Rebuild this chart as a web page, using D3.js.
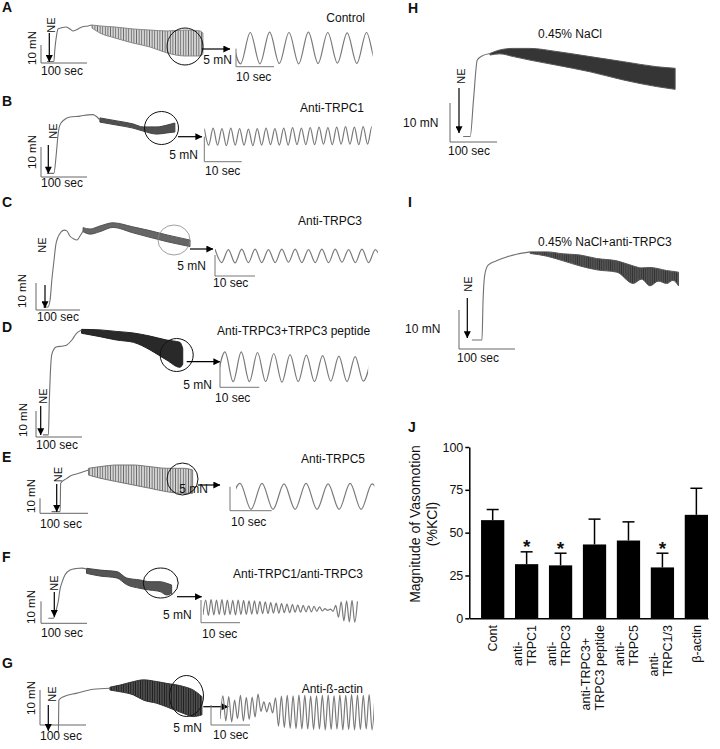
<!DOCTYPE html>
<html><head><meta charset="utf-8">
<script src="https://cdn.jsdelivr.net/npm/d3@7"></script>
<style>
body{margin:0;background:#fff;}
svg text{font-family:Arial,"Liberation Sans",sans-serif;fill:#111;}
</style></head><body>
<svg id="fig" width="720" height="749"></svg>
<script>
// ===================== DATA =====================
// Panel J: magnitude of vasomotion (%KCl)
const categories = ["Cont","anti-\nTRPC1","anti-\nTRPC3","anti-TRPC3+\nTRPC3 peptide","anti-\nTRPC5","anti-\nTRPC1/3","β-actin"];
const meanValues = [57.3,31.6,30.9,43.1,45.4,29.7,60.4];
const semValues  = [6.2,7.2,7.1,14.8,10.9,8.3,15.5];
const significant = [false,true,true,false,false,true,false];
const yTicks = [0,25,50,75,100];
const yLabelLines = ["Magnitude of Vasomotion","(%KCl)"];

// Trace titles
const traceTitles = ["Control","Anti-TRPC1","Anti-TRPC3","Anti-TRPC3+TRPC3 peptide","Anti-TRPC5","Anti-TRPC1/anti-TRPC3","Anti-ß-actin","0.45% NaCl","0.45% NaCl+anti-TRPC3"];

// Tension traces: [time s, force mN] ; oscillating part as [time s, lower mN, upper mN]
const riseA = [[13,0.8],[28,0.8],[30,7.2],[34,15.6],[37,18.9],[43,19.4],[54,20],[63,18.9],[70,17.8],[76,18.3],[89,20],[102,20.6],[111,21.1]];
const bandA = [[111,19.4,21.1],[128,16.7,20.6],[161,13.9,20],[200,11.1,18.9],[237,8.9,18.3],[274,5.6,17.8],[313,3.9,18.3],[346,3.9,17.8],[352,5,16.7]];
const riseB = [[13,1.2],[28,1.2],[33,7.3],[37,14],[41,17.3],[50,19],[63,20],[85,20.3],[102,20.7],[113,20.8],[122,20],[128,19]];
const bandB = [[128,18.3,19.7],[165,17.3,18.7],[200,16.3,17.7],[222,15.3,16.7],[252,14.3,16.7],[274,14.7,17.3],[291,15,18]];
const riseC = [[16,1.1],[27,1.1],[32,3.7],[36,11.1],[41,18.5],[45,24.1],[50,27],[57,28.9],[64,29.6],[70,29.3],[77,27.4],[86,26.3],[93,25.9],[100,27.4],[107,29.3]];
const bandC = [[107,29,30.5],[123,28.1,30],[145,29,31.1],[175,30.6,32.3],[220,28.6,30.8],[259,26.9,29.4],[298,25.3,27.8],[350,23.5,25.9]];
const riseD = [[15,0.8],[27,0.8],[29,14.2],[31,23.8],[34,31.5],[39,33.8],[45,34.7],[59,35],[67,35.4],[78,37.3],[88,39.9],[99,41.2]];
const bandD = [[99,39.9,41.4],[139,38.6,41.2],[175,37.3,40.6],[212,36.4,40],[248,33.5,38.8],[284,29.6,37.3],[313,26.8,36.4],[319,28,34]];
const riseE = [[24,1.1],[42,1.1],[43,20],[56,23.3],[63,24.9],[76,26.2],[90,27.7],[101,28.9]];
const bandE = [[101,25.5,30],[125,23.4,31.1],[160,21.1,32.2],[194,18.9,32.2],[229,16.7,31.1],[264,14.4,30],[299,13.3,30],[318,13.3,28.9]];
const riseF = [[16,2.3],[27,2.3],[33,6],[38,10.6],[41,15.1],[46,18.8],[52,22],[63,24.2],[76,24.9],[89,25.1],[99,24.7]];
const bandF = [[99,22.7,25],[128,21.5,24.2],[165,20.6,23.5],[186,17.6,20.6],[215,15.9,19.7],[237,15.1,18.9],[259,14.4,18.9],[273,12.9,18.2],[284,13.6,17.4]];
const riseG = [[33,-1.9],[40,-1.9],[40.5,2.9],[41,7.1],[51,8.1],[80,9.1],[116,10.2],[152,10.5]];
const bandG = [[152,10,10.8],[174,9.5,11.4],[203,8.6,12.4],[225,7.1,12.9],[254,6.2,12.4],[275,5.2,11.9],[312,3.3,11],[333,2.4,10],[352,2.9,8.1]];
const riseH = [[28,1.4],[43,1.4],[50,10.8],[58,21],[67,22],[85,22.7]];
const bandH = [[85,22.3,22.7],[106,22.6,23.6],[135,21.9,24],[170,21,24],[227,19.7,23.2],[298,18,21.9],[369,15.9,20.6],[440,14.2,19.3],[479,13.5,18.9]];
const riseI = [[23,2.3],[41,2.3],[43,12.6],[46,19],[52,21.5],[67,22.6],[85,23.6],[103,24.3],[127,24.9]];
const bandI = [[127,24.5,24.9],[157,23.8,24.9],[186,22.6,24.4],[216,21.3,24.1],[246,20.3,23.2],[282,19.7,22.6],[311,16.8,21.3],[326,17.9,20.8],[341,16.2,20.9],[356,17.4,20.6],[371,16.8,20.1],[382,17.6,19.9],[392,16.2,19.7]];

// Expanded traces: successive peak/trough values (mN); timing = [first extremum time s, half period s]
const zoomA = [9.4,0.8,9.5,0.8,9.6,0.9,9.5,0.8,9.6,0.9,9.5,1.0,9.4,0.9,9.5,1.0,9.3];
const timingA = [-1.35,2.55];
const zoomB = [6.6,3.3,6.7,3.3,6.6,3.2,6.7,3.3,6.6,3.3,6.5,3.2,6.6,3.3,6.7,3.4,6.6,3.3,6.7,3.3,6.8,3.4,6.7,3.4,6.8,3.4,6.9,3.5,6.8,3.4,6.9,3.5,7.0,3.5,6.9,3.4,7.0,3.5,7.0,3.5];
const timingB = [0,1.18];
const zoomC = [6.4,3.2,6.3,3.1,6.4,3.2,6.4,3.2,6.3,3.2,6.4,3.3,6.4,3.2,6.3,3.2,6.4,3.2,6.4,3.3,6.3,3.2,6.4,3.2,6.3,3.2];
const timingC = [0,1.67];
const zoomD = [1.2,6.9,1.1,6.9,1.1,6.8,1.1,6.6,1.0,6.4,1.1,6.3,1.1,6.2,1.2,6.1,1.1,6.0,1.2,6.0];
const timingD = [-0.8,2.07];
const zoomE = [0.4,5.7,0.3,5.7,0.3,5.6,0.3,5.7,0.3,5.6,0.3,5.7,0.3,5.6,0.4];
const timingE = [-0.24,2.64];
const zoomF = [1.7,5.0,1.6,5.1,1.7,5.0,1.8,5.1,1.7,5.0,1.8,4.9,1.7,5.0,1.8,4.9,1.8,4.8,1.9,4.8,1.9,4.7,2.0,4.6,
  2.0,4.4,2.1,4.3,2.1,4.2,2.2,4.1,2.2,4.0,2.3,3.9,2.3,3.8,2.4,3.7,2.4,3.6,2.5,3.5,
  2.6,3.1,2.7,3.0,2.5,
  3.8,1.2,4.6,0.4,4.8,0.2,4.9,0.1,4.7];
const timingF = [0.5,0.695];
const zoomG = [1.5,7.3,1.0,7.1,0.8,6.2,1.6,7.4,1.0,6.9,1.4,7.0,2.0,7.7,
  3.4,5.8,3.3,5.6,3.0,
  6.8,-0.3,7.2,-0.6,7.4,-0.8,7.3,-0.9,7.5,-1.0,7.4,-1.0,7.2,-1.1,7.3,-1.0,7.4,-1.2,7.5,-1.1,7.3,-1.0,7.5,-1.2,7.4,-1.1,7.6,-1.2,7.5,-1.1,7.4,-1.0,7.6,-1.2,7.5];
const timingG = [2.3,0.75];

// ===================== LAYOUT =====================
const svg = d3.select("#fig");
const defs = svg.append("defs");
defs.append("marker").attr("id","ah").attr("viewBox","0 0 10 10").attr("refX",9.5).attr("refY",5)
  .attr("markerWidth",7.5).attr("markerHeight",7).attr("markerUnits","userSpaceOnUse").attr("orient","auto")
  .append("path").attr("d","M0,0L10,5L0,10z").attr("fill","#000");

function stripePattern(id, bg, fg, period, lw){
  const p = defs.append("pattern").attr("id",id).attr("patternUnits","userSpaceOnUse").attr("width",period).attr("height",20);
  p.append("rect").attr("width",period).attr("height",20).attr("fill",bg);
  p.append("line").attr("x1",period/2).attr("x2",period/2).attr("y1",0).attr("y2",20).attr("stroke",fg).attr("stroke-width",lw);
}
stripePattern("pA","#e6e6e6","#6a6a6a",2.6,1.1);
stripePattern("pB","#666","#3a3a3a",2,1);
stripePattern("pC","#777","#555",2,1);
stripePattern("pD","#555","#111",2,1.3);
stripePattern("pF","#666","#444",2,1);
stripePattern("pG","#666","#1a1a1a",2.4,1.3);
stripePattern("pH","#555","#1a1a1a",2,1.1);
stripePattern("pI","#5a5a5a","#333",2.2,1);

const panels = [
 {L:"A",letter:[2,11.7],rise:riseA,band:bandA,pat:"pA",bstroke:"#888",main:[41,63,46,18],
  ne:[51.5,25],neArrow:[49.3,33,61.7],mn:[32,48],sec:[41,75],circle:[185,46.5,18,18.5,"#111"],
  harrow:[202,49,230],five:[232,64],ten:[236,81],zoom:[236,66.7,38,18],ext:zoomA,tim:timingA,clip:[0,36],
  title:[0,365,22,"end"]},
 {L:"B",letter:[2,106],rise:riseB,band:bandB,pat:"pB",bstroke:"#444",main:[41,177,46,30],
  ne:[53,131],neArrow:[48.3,145,173.3],mn:[32,152],sec:[41,186.7],circle:[161.5,128,17,16.5,"#111"],
  harrow:[178,136.7,202],five:[198,159],ten:[205,175],zoom:[204.3,161.7,37.4,25],ext:zoomB,tim:timingB,clip:[0,44.8],
  title:[1,364,112,"end"]},
 {L:"C",letter:[2,206.7],rise:riseC,band:bandC,pat:"pC",bstroke:"#555",main:[36,310,44,27],
  ne:[42,245],neArrow:[45,285,308],mn:[22,291],sec:[37,320.7],circle:[174,240,16,15,"#888"],
  harrow:[190,249,213],five:[206,270],ten:[213,286.7],zoom:[215,276,40,21],ext:zoomC,tim:timingC,clip:[0,40.75],
  title:[2,362,225,"end"]},
 {L:"D",letter:[2,331.7],rise:riseD,band:bandD,pat:"pD",bstroke:"#222",main:[36,437,46,26],
  ne:[43,396],neArrow:[40.7,406,435],mn:[23,420],sec:[36,449],circle:[176.7,355,16.5,16.5,"#111"],
  harrow:[186.7,361.7,220],five:[212,389],ten:[215,401.7],zoom:[220,387.3,39.3,25.6],ext:zoomD,tim:timingD,clip:[0,37.7],
  title:[3,217,335,"start"]},
 {L:"E",letter:[2,461.7],rise:riseE,band:bandE,pat:"pA",bstroke:"#777",main:[40,513.3,48,15],
  ne:[58,474.5],neArrow:[56.7,484,511.7],mn:[30.5,496],sec:[40,528.3],circle:[182.5,479,15.5,16,"#111"],
  harrow:[198,485,220],five:[208,493.3],ten:[231,526],zoom:[230,510.7,41.7,24],ext:zoomE,tim:timingE,clip:[1.44,34.6],
  title:[4,365,463,"end"]},
 {L:"F",letter:[2,561.7],rise:riseF,band:bandF,pat:"pF",bstroke:"#444",main:[41,623.3,46,22],
  ne:[54,583],neArrow:[54.3,592,616.7],mn:[31,607],sec:[41,636.7],circle:[160.7,583,17.5,15,"#111"],
  harrow:[177,596.7,201.7],five:[191.7,619],ten:[202,638.3],zoom:[201,622.7,39,22.7],ext:zoomF,tim:timingF,clip:[0.5,40.3],
  title:[5,233,578,"start"]},
 {L:"G",letter:[2,668.3],rise:riseG,band:bandG,pat:"pG",bstroke:"#333",main:[40,725,46,35],
  ne:[52,694],neArrow:[48.3,705,730.7],mn:[30.5,698],sec:[40,740],circle:[186.5,696,17,20.5,"#111"],
  harrow:[203.3,706.7,228.3],five:[202,731.7],ten:[213,739.3],zoom:[211,725,39,20],ext:zoomG,tim:timingG,clip:[2.3,41.8],
  title:[6,363,693,"end"]},
 {L:"H",letter:[408,13.3],rise:riseH,band:bandH,pat:"pH",bstroke:"#555",main:[450,142,47,39],
  ne:[461,76],neArrow:[459,88,133],mnH:[403,127],sec:[448,155],title:[7,538,38,"start"]},
 {L:"I",letter:[408,206.7],rise:riseI,band:bandI,pat:"pI",bstroke:"#555",main:[459,349,56,39],
  ne:[468,284],neArrow:[467.3,298,338],mnH:[405,333],sec:[457,362],title:[8,538,246,"start"]}
];

const traceColor = "#707070";
function txt(g,s,x,y,size,anchor,weight){
  return g.append("text").attr("x",x).attr("y",y).attr("font-size",size).attr("text-anchor",anchor||"start")
    .attr("font-weight",weight||"normal").text(s);
}
function rtxt(g,s,cx,cy,size){
  return g.append("text").attr("transform",`translate(${cx},${cy}) rotate(-90)`).attr("text-anchor","middle")
    .attr("dy","0.35em").attr("font-size",size).text(s);
}

panels.forEach((p,pi)=>{
  const g = svg.append("g").attr("class","panel-"+p.L);
  const x = d3.scaleLinear().domain([0,100]).range([p.main[0],p.main[0]+p.main[2]]);
  const y = d3.scaleLinear().domain([0,10]).range([p.main[1],p.main[1]-p.main[3]]);
  txt(g,p.L,p.letter[0],p.letter[1],14,"start","bold");
  // scale bar (10 mN / 100 sec)
  g.append("path").attr("d",`M${x(0)},${y(10)}V${y(0)}H${x(100)}`).attr("fill","none").attr("stroke","#666").attr("stroke-width",1);
  // band (oscillation)
  const area = d3.area().x(d=>x(d[0])).y0(d=>y(d[1])).y1(d=>y(d[2])).curve(d3.curveMonotoneX);
  g.append("path").datum(p.band).attr("d",area).attr("fill",`url(#${p.pat})`).attr("stroke",p.bstroke).attr("stroke-width",1);
  // rise line
  const line = d3.line().x(d=>x(d[0])).y(d=>y(d[1])).curve(d3.curveMonotoneX);
  g.append("path").datum(p.rise).attr("d",line).attr("fill","none").attr("stroke",traceColor).attr("stroke-width",1.1);
  // NE
  rtxt(g,"NE",p.ne[0],p.ne[1],11);
  g.append("line").attr("x1",p.neArrow[0]).attr("x2",p.neArrow[0]).attr("y1",p.neArrow[1]).attr("y2",p.neArrow[2])
    .attr("stroke","#000").attr("stroke-width",1.2).attr("marker-end","url(#ah)");
  if(p.mn) rtxt(g,"10 mN",p.mn[0],p.mn[1],11.5);
  if(p.mnH) txt(g,"10 mN",p.mnH[0],p.mnH[1],12);
  txt(g,"100 sec",p.sec[0],p.sec[1],12);
  const t = p.title;
  txt(g,traceTitles[t[0]],t[1],t[2],12,t[3]);
  if(!p.zoom) return;
  // circle + arrow
  g.append("ellipse").attr("cx",p.circle[0]).attr("cy",p.circle[1]).attr("rx",p.circle[2]).attr("ry",p.circle[3])
    .attr("fill","none").attr("stroke",p.circle[4]).attr("stroke-width",p.circle[4]==="#888"?0.8:1);
  g.append("line").attr("x1",p.harrow[0]).attr("x2",p.harrow[2]).attr("y1",p.harrow[1]).attr("y2",p.harrow[1])
    .attr("stroke","#000").attr("stroke-width",1.2).attr("marker-end","url(#ah)");
  txt(g,"5 mN",p.five[0],p.five[1],12,"end");
  txt(g,"10 sec",p.ten[0],p.ten[1],12);
  // expanded trace
  const xz = d3.scaleLinear().domain([0,10]).range([p.zoom[0],p.zoom[0]+p.zoom[2]]);
  const yz = d3.scaleLinear().domain([0,5]).range([p.zoom[1],p.zoom[1]-p.zoom[3]]);
  g.append("path").attr("d",`M${xz(0)},${yz(5)}V${yz(0)}H${xz(10)}`).attr("fill","none").attr("stroke","#777").attr("stroke-width",1);
  const cid = "clip"+p.L;
  defs.append("clipPath").attr("id",cid).append("rect")
    .attr("x",xz(p.clip[0])).attr("width",xz(p.clip[1])-xz(p.clip[0])).attr("y",yz(12)).attr("height",yz(-4)-yz(12));
  const pts = p.ext.map((v,i)=>[p.tim[0]+i*p.tim[1],v]);
  const zl = d3.line().x(d=>xz(d[0])).y(d=>yz(d[1])).curve(d3.curveMonotoneX);
  g.append("path").datum(pts).attr("d",zl).attr("clip-path",`url(#${cid})`).attr("fill","none")
    .attr("stroke","#7a7a7a").attr("stroke-width",1.2);
});

// ===================== PANEL J =====================
const gJ = svg.append("g").attr("class","panel-J");
txt(gJ,"J",408,432,14,"start","bold");
const xJ = d3.scaleBand().domain(categories).range([469.3,708]).paddingInner(0.315).paddingOuter(0.173).align(1);
const yJ = d3.scaleLinear().domain([0,100]).range([618.3,447]);

const yAx = gJ.append("g").attr("transform","translate(469.3,0)")
  .call(d3.axisLeft(yJ).tickValues(yTicks).tickSize(4).tickSizeOuter(0).tickPadding(2));
yAx.select(".domain").attr("stroke","#000").attr("stroke-width",1.5);
yAx.selectAll(".tick line").attr("stroke","#000").attr("stroke-width",1.5);
yAx.selectAll(".tick text").attr("font-size",12.5).attr("font-family","Arial,'Liberation Sans',sans-serif").attr("fill","#111");

const xAx = gJ.append("g").attr("transform","translate(0,618.3)")
  .call(d3.axisBottom(xJ).tickSize(0).tickSizeOuter(0).tickFormat(""));
xAx.select(".domain").attr("stroke","#000").attr("stroke-width",1.5);

// bars
gJ.selectAll("rect.bar").data(categories).join("rect").attr("class","bar")
  .attr("x",d=>xJ(d)).attr("width",xJ.bandwidth())
  .attr("y",(d,i)=>yJ(meanValues[i])).attr("height",(d,i)=>yJ(0)-yJ(meanValues[i]))
  .attr("fill","#000");
// error bars
categories.forEach((c,i)=>{
  const cx = xJ(c)+xJ.bandwidth()/2;
  const top = yJ(meanValues[i]+semValues[i]);
  gJ.append("line").attr("x1",cx).attr("x2",cx).attr("y1",yJ(meanValues[i])).attr("y2",top).attr("stroke","#000").attr("stroke-width",1.5);
  gJ.append("line").attr("x1",cx-6).attr("x2",cx+6).attr("y1",top).attr("y2",top).attr("stroke","#000").attr("stroke-width",1.5);
  if(significant[i]) txt(gJ,"*",cx,top+1.5,19,"middle","bold");
  // category labels (rotated, GraphPad style)
  const lines = c.split("\n");
  const n = lines.length;
  const ts = lines.map((ln,k)=>{
    const bx = cx + 4.5 + (k-(n-1)/2)*14 - (n-1)*2;
    const el = gJ.append("text").attr("font-size",12.5).text(ln);
    return [el,bx];
  });
  const maxLen = d3.max(ts,d=>d[0].node().getComputedTextLength());
  ts.forEach(([el,bx])=>el.attr("text-anchor","start").attr("transform",`translate(${bx},${625+maxLen}) rotate(-90)`));
});
// y label
yLabelLines.forEach((s,k)=>{
  gJ.append("text").attr("transform",`translate(${420+k*17},524) rotate(-90)`).attr("text-anchor","middle")
    .attr("font-size",14).text(s);
});
</script>
</body></html>
